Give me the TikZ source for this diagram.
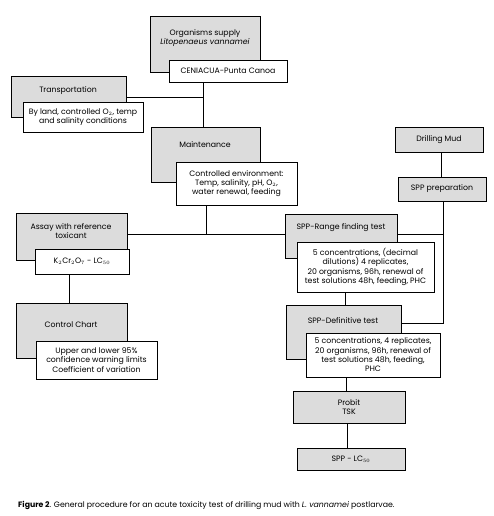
\documentclass[tikz,border=0pt]{standalone}
\usepackage{fontspec}
\setmainfont{Poppins}
\begin{document}
\begin{tikzpicture}[x=1pt,y=-1pt,
  font=\fontsize{7.8}{9.3}\selectfont,
  box/.style={draw=black, line width=0.8pt, inner sep=0pt, anchor=north west},
  gbox/.style={box, fill=boxgrey},
  wbox/.style={box, fill=white},
  txt/.style={align=center, inner sep=0pt},
  conn/.style={draw=black, line width=0.8pt}]
\definecolor{boxgrey}{RGB}{220,220,220}
\useasboundingbox (0,0) rectangle (494,516);
\fill[white] (0,0) rectangle (494,516);
% Organisms supply
\node (org) [gbox, minimum width=110pt, minimum height=56pt] at (150,16) {};
\node (orgT) [txt] at (205,38) {Organisms supply\\\textit{Litopenaeus vannamei}};
\node (ceni) [wbox, minimum width=118pt, minimum height=22pt] at (169,60) {};
\node (ceniT) [txt] at (228,71) {CENIACUA-Punta Canoa};
% Transportation
\node (trans) [gbox, minimum width=115pt, minimum height=41pt] at (11,76) {};
\node (transT) [txt] at (68,91) {Transportation};
\node (transw) [wbox, minimum width=120pt, minimum height=30pt] at (23,102) {};
\node (transwT) [txt] at (83,117) {By land, controlled O$_2$, temp\\and salinity conditions};
% Maintenance
\node (maint) [gbox, minimum width=109pt, minimum height=55pt] at (151,127) {};
\node (maintT) [txt] at (205,145) {Maintenance};
\node (maintw) [wbox, minimum width=121pt, minimum height=43pt] at (176,162) {};
\node (maintwT) [txt] at (236.5,183.5) {Controlled environment:\\Temp, salinity, pH, O$_2$,\\water renewal, feeding};
% Drilling mud
\node (drill) [gbox, minimum width=88pt, minimum height=25pt] at (395,127) {};
\node (drillT) [txt] at (439,139.5) {Drilling Mud};
\node (prep) [gbox, minimum width=88pt, minimum height=24pt] at (398,177) {};
\node (prepT) [txt] at (442,189) {SPP preparation};
% Assay
\node (assay) [gbox, minimum width=111pt, minimum height=47pt] at (16,213) {};
\node (assayT) [txt] at (71,231) {Assay with reference\\toxicant};
\node (k2) [wbox, minimum width=94pt, minimum height=25pt] at (35,249) {};
\node (k2T) [txt] at (82,261.5) {K$_2$Cr$_2$O$_7$ - LC$_{50}$};
% Range finding
\node (range) [gbox, minimum width=112pt, minimum height=44pt] at (285,214) {};
\node (rangeT) [txt] at (341,228) {SPP-Range finding test};
\node (rangew) [wbox, minimum width=137pt, minimum height=50pt] at (297,242) {};
\node (rangewT) [txt] at (365.5,267) {5 concentrations, (decimal\\dilutions) 4 replicates,\\20 organisms, 96h, renewal of\\test solutions 48h, feeding, PHC};
% Control chart
\node (ctrl) [gbox, minimum width=111pt, minimum height=55pt] at (16,303) {};
\node (ctrlT) [txt] at (71,325) {Control Chart};
\node (ctrlw) [wbox, minimum width=121pt, minimum height=38pt] at (36,341) {};
\node (ctrlwT) [txt] at (96.5,360) {Upper and lower 95\%\\confidence warning limits\\Coefficient of variation};
% Definitive
\node (def) [gbox, minimum width=115pt, minimum height=54pt] at (286,305) {};
\node (defT) [txt] at (343,321) {SPP-Definitive test};
\node (defw) [wbox, minimum width=134pt, minimum height=44pt] at (306,333) {};
\node (defwT) [txt] at (373,355) {5 concentrations, 4 replicates,\\20 organisms, 96h, renewal of\\test solutions 48h, feeding,\\PHC};
% Probit
\node (probit) [gbox, minimum width=112pt, minimum height=32pt] at (293,391) {};
\node (probitT) [txt] at (349,407) {Probit\\TSK};
\node (lc) [gbox, minimum width=108pt, minimum height=22pt] at (297,448) {};
\node (lcT) [txt] at (351,459) {SPP - LC$_{50}$};
% connectors
\coordinate (j1) at (203,97);
\coordinate (j2) at (206,234);
\coordinate (j3) at (443,234);
\coordinate (j4) at (443,323);
\draw[conn] (ceni.south -| j1) -- (maint.north -| j1);
\draw[conn] (trans.east |- j1) -- (j1);
\draw[conn] (maintw.south -| j2) -- (j2);
\draw[conn] (assay.east |- j2) -- (range.west |- j2);
\draw[conn] (range.east |- j3) -- (j3);
\draw[conn] (drill.south -| 441,0) -- (prep.north -| 441,0);
\draw[conn] (prep.south -| j3) -- (j4) -- (def.east |- j4);
\draw[conn] (rangew.south -| 345,0) -- (def.north -| 345,0);
\draw[conn] (k2.south -| 69,0) -- (ctrl.north -| 69,0);
\draw[conn] (defw.south -| 346,0) -- (probit.north -| 346,0);
\draw[conn] (probit.south -| 347,0) -- (lc.north -| 347,0);
% caption
\node (cap) [anchor=west, inner sep=0pt, font=\fontsize{7.8}{9}\selectfont] at (18,505) {\textbf{Figure 2}. General procedure for an acute toxicity test of drilling mud with \textit{L. vannamei} postlarvae.};
\end{tikzpicture}
\end{document}
